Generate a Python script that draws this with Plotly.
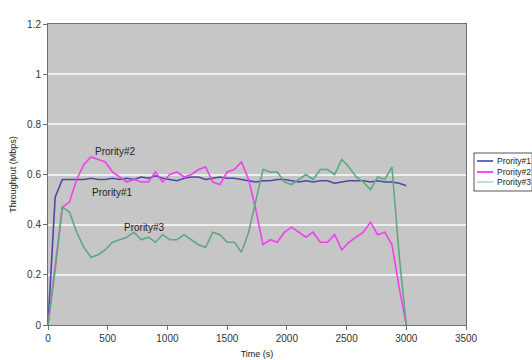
import plotly.graph_objects as go

# Sampling instants (s)
time_s = list(range(0, 3001, 60))

# Throughput per priority class (Mbps)
priority1 = [0, 0.51, 0.58, 0.58, 0.58, 0.58, 0.585, 0.58, 0.58, 0.585,
             0.58, 0.585, 0.58, 0.59, 0.585, 0.595, 0.585, 0.58, 0.575, 0.585,
             0.59, 0.59, 0.58, 0.585, 0.59, 0.585, 0.585, 0.58, 0.575, 0.57,
             0.575, 0.575, 0.58, 0.58, 0.575, 0.57, 0.575, 0.57, 0.575, 0.575,
             0.565, 0.57, 0.575, 0.575, 0.575, 0.57, 0.575, 0.57, 0.57, 0.565,
             0.555]
priority2 = [0, 0.24, 0.47, 0.49, 0.58, 0.64, 0.67, 0.66, 0.65, 0.61,
             0.59, 0.57, 0.58, 0.57, 0.57, 0.61, 0.57, 0.60, 0.61, 0.59,
             0.60, 0.62, 0.63, 0.57, 0.56, 0.61, 0.62, 0.65, 0.58, 0.46,
             0.32, 0.34, 0.33, 0.37, 0.39, 0.37, 0.35, 0.37, 0.33, 0.33,
             0.36, 0.30, 0.33, 0.35, 0.37, 0.41, 0.36, 0.37, 0.32, 0.15,
             0]
priority3 = [0, 0.22, 0.47, 0.45, 0.37, 0.31, 0.27, 0.28, 0.30, 0.33,
             0.34, 0.35, 0.37, 0.34, 0.35, 0.33, 0.36, 0.34, 0.34, 0.36,
             0.34, 0.32, 0.31, 0.37, 0.36, 0.33, 0.33, 0.29, 0.37, 0.50,
             0.62, 0.61, 0.61, 0.57, 0.56, 0.58, 0.60, 0.58, 0.62, 0.62,
             0.60, 0.66, 0.63, 0.59, 0.57, 0.54, 0.59, 0.58, 0.63, 0.28,
             0]

series_names = ["Prority#1", "Prority#2", "Prority#3"]
series_colors = ["#4a4aa6", "#f040f0", "#5fa880"]
legend_colors = ["#6a6ac0", "#ff48ff", "#b4e6cc"]

FONT = "Liberation Sans, Arial"

fig = go.Figure()
for name, vals, col in zip(series_names, [priority1, priority2, priority3], series_colors):
    fig.add_trace(go.Scatter(x=time_s, y=vals, mode="lines", name=name,
                             line=dict(color=col, width=1.6), showlegend=False))

# In-plot series labels
label_pos = {"Prority#2": (563, 0.69), "Prority#1": (537, 0.53), "Prority#3": (806, 0.39)}
for name, (tx, ty) in label_pos.items():
    fig.add_annotation(x=tx, y=ty, text=name, showarrow=False,
                       font=dict(family=FONT, size=10, color="#222222"))

# Compact key to the right of the plot area (paper coordinates)
key_left, key_right, key_top, key_bottom = 1.0192, 1.1583, 0.5714, 0.4452
fig.add_shape(type="rect", xref="paper", yref="paper",
              x0=key_left, x1=key_right, y0=key_bottom, y1=key_top,
              line=dict(color="#555555", width=1), fillcolor="white", layer="above")
row_y = [0.5448, 0.5083, 0.4751]
for name, col, ry in zip(series_names, legend_colors, row_y):
    fig.add_shape(type="line", xref="paper", yref="paper",
                  x0=1.0264, x1=1.0648, y0=ry, y1=ry,
                  line=dict(color=col, width=2), layer="above")
    fig.add_annotation(xref="paper", yref="paper", x=1.0695, y=ry, text=name,
                       xanchor="left", yanchor="middle", showarrow=False,
                       font=dict(family=FONT, size=8.5, color="#222222"))

axis_font = dict(family=FONT, size=10, color="#333333")
fig.update_layout(
    width=532, height=360,
    margin=dict(l=48, r=66, t=24, b=35, autoexpand=False),
    paper_bgcolor="white",
    plot_bgcolor="#c6c6c6",
    font=axis_font,
    showlegend=False,
    xaxis=dict(range=[0, 3500], dtick=500, tick0=0, showgrid=False,
               showline=True, linecolor="#707070", linewidth=1, mirror=True,
               ticks="outside", ticklen=4, tickcolor="#707070",
               zeroline=False, tickfont=axis_font,
               title=dict(text="Time (s)", font=dict(family=FONT, size=9, color="#222222"), standoff=7)),
    yaxis=dict(range=[0, 1.2], dtick=0.2, tick0=0, showgrid=True,
               gridcolor="#eeeeee", gridwidth=1.5,
               showline=True, linecolor="#707070", linewidth=1, mirror=True,
               ticks="outside", ticklen=4, tickcolor="#707070",
               zeroline=False, tickfont=axis_font, tickformat="~g",
               title=dict(text="Throughput (Mbps)", font=dict(family=FONT, size=9, color="#222222"), standoff=8)),
)

fig.write_html("out.html")
